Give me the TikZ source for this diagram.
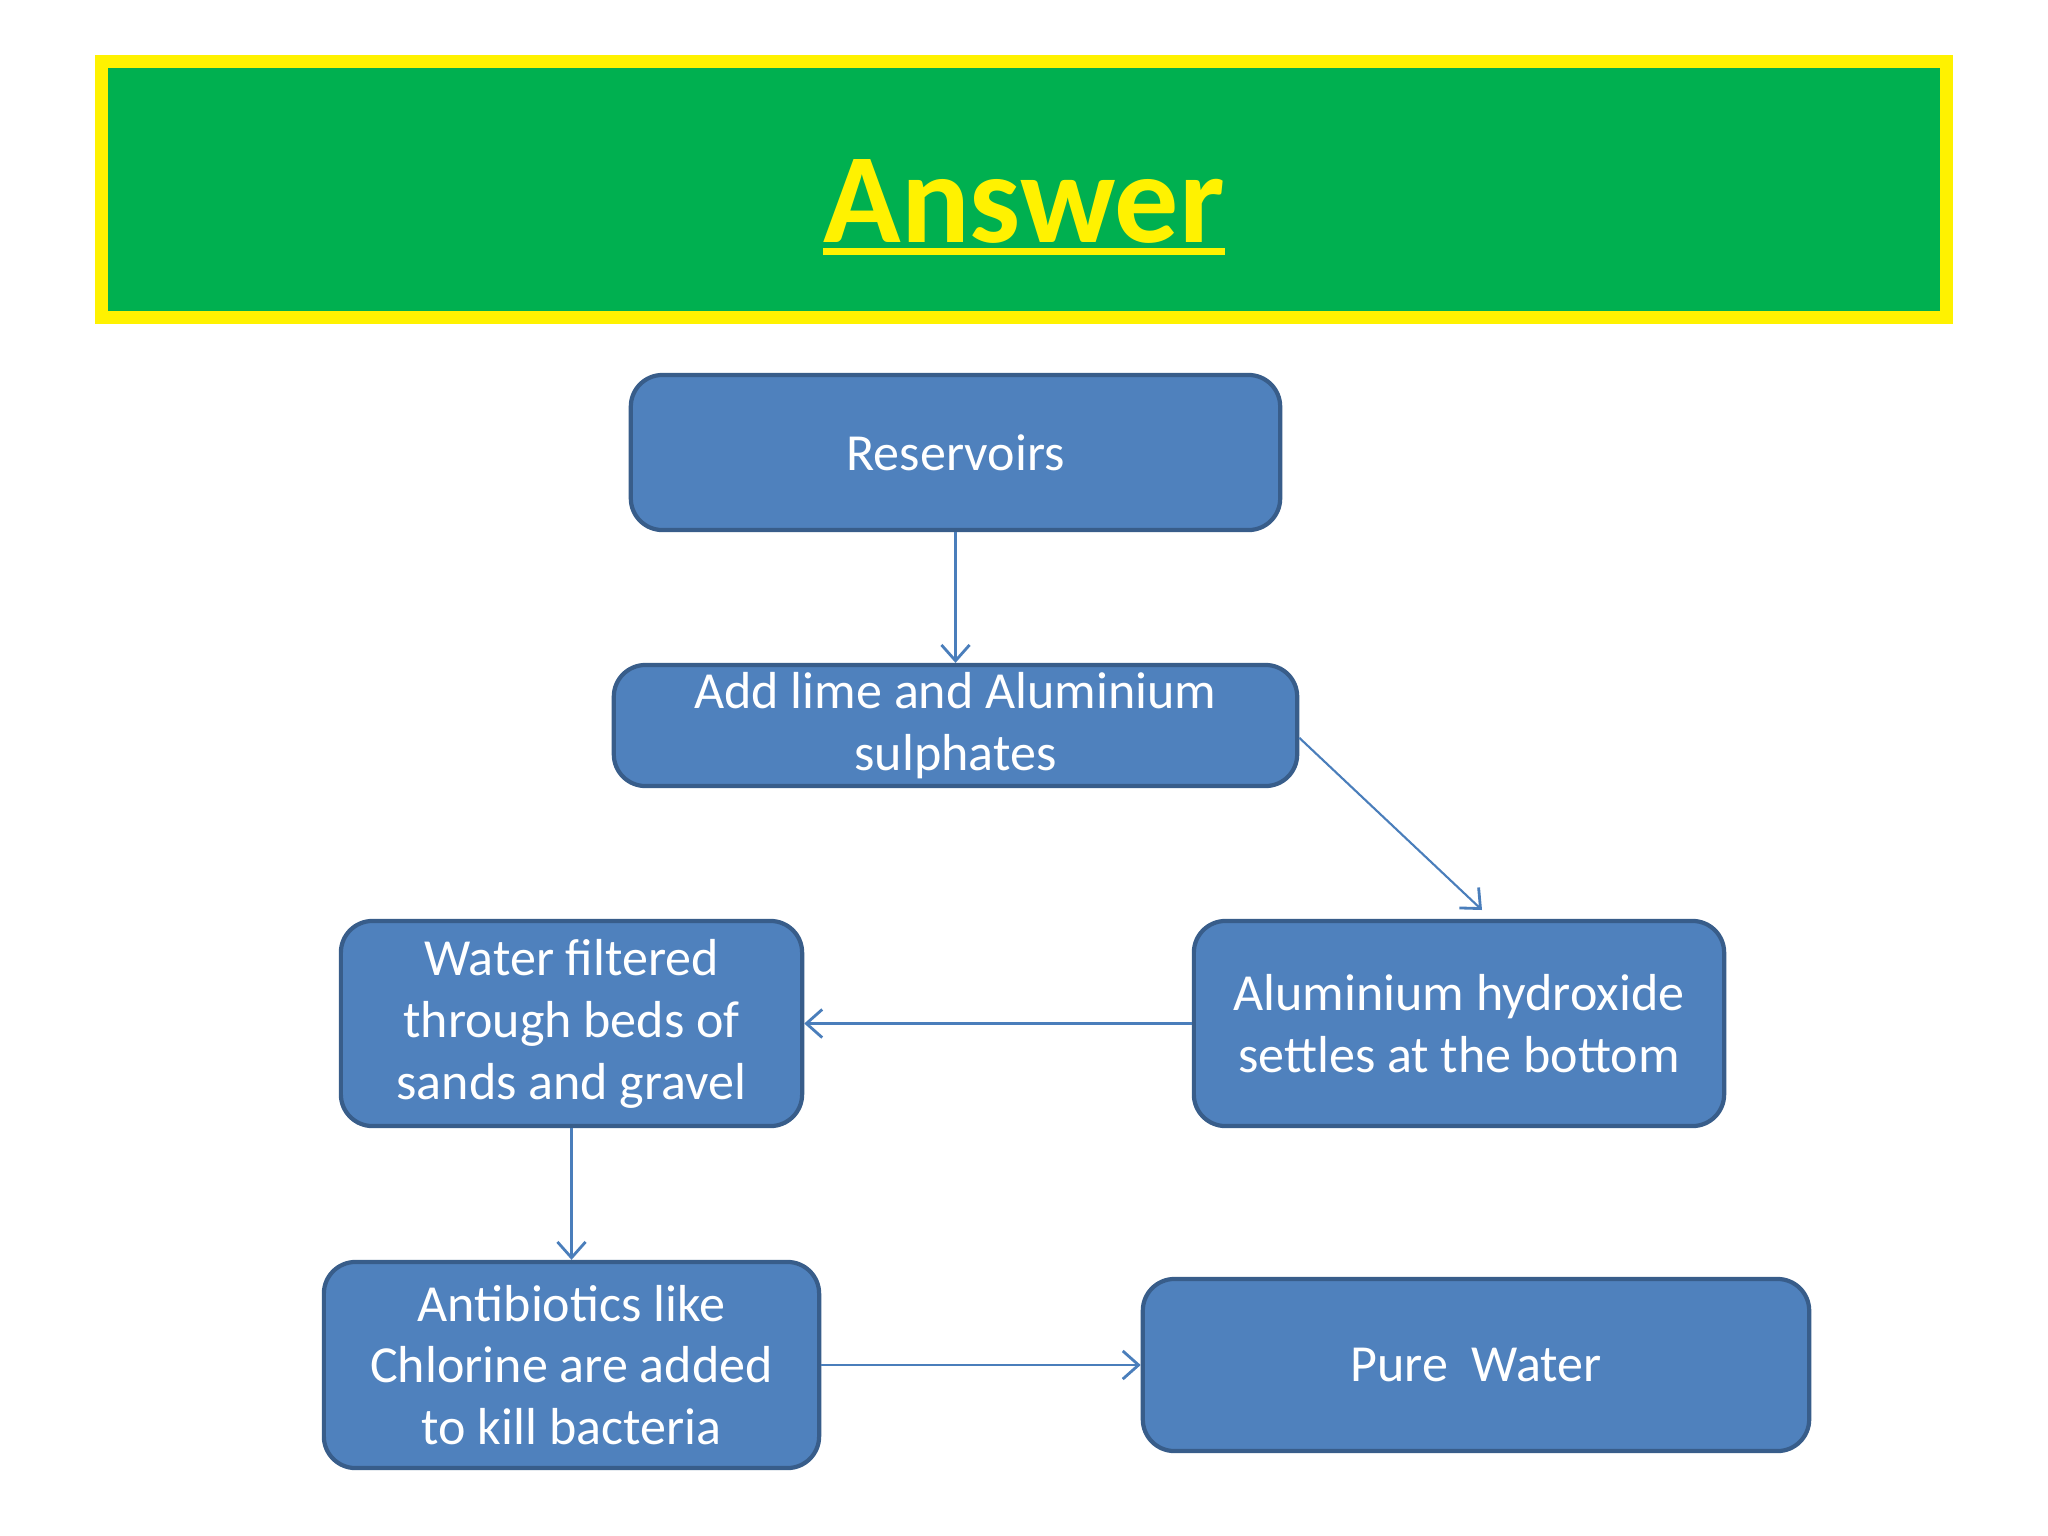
\documentclass[tikz,border=0pt]{standalone}
\usepackage{fontspec}
\setmainfont{Carlito}
\usetikzlibrary{arrows.meta}

\definecolor{stagefill}{HTML}{4F81BD}
\definecolor{stageedge}{HTML}{385D8A}
\definecolor{bannergreen}{HTML}{00B050}
\definecolor{linkblue}{HTML}{4A7EBB}

% thick underline for the heading
\newcommand{\headunder}[1]{\setbox0=\hbox{#1}\rlap{\rule[-3.7pt]{\wd0}{2pt}}\box0}

\begin{document}
\begin{tikzpicture}[x=0.01cm, y=-0.01cm,
    stage/.style={draw=stageedge, line width=1.2pt, fill=stagefill,
                  rounded corners=9pt, text=white, align=center, inner sep=0pt,
                  font=\fontsize{14.8}{17.6}\selectfont},
    link/.style={draw=linkblue, line width=0.6pt,
                 -{Straight Barb[length=4.5pt,width=8pt,line width=0.8pt]}},
    heading/.style={text=yellow, font=\bfseries\fontsize{36.4}{40}\selectfont, inner sep=0pt},
]
\useasboundingbox (0,0) rectangle (2048,1536);

\fill[bannergreen] (101.5,61.5) rectangle (1946.5,317.5);
\draw[yellow, line width=3.7pt] (101.5,61.5) rectangle (1946.5,317.5);
\node[heading, anchor=base] (title) at (1024,242) {\headunder{Answer}};

\node[stage, minimum width=6.49cm, minimum height=1.55cm] (res) at (955.5,452.5) {Reservoirs};
\node[stage, minimum width=6.83cm, minimum height=1.21cm] (add) at (955.5,725.5) {Add lime and Aluminium\\sulphates};
\node[stage, minimum width=5.30cm, minimum height=2.05cm] (settle) at (1459,1023.5) {Aluminium hydroxide\\settles at the bottom};
\node[stage, minimum width=4.61cm, minimum height=2.05cm] (filter) at (571.5,1023.5) {Water filtered\\through beds of\\sands and gravel};
\node[stage, minimum width=4.95cm, minimum height=2.06cm] (chlor) at (571.5,1365) {Antibiotics like\\Chlorine are added\\to kill bacteria};
\node[stage, minimum width=6.66cm, minimum height=1.72cm] (pure) at (1476,1365) {Pure\ \ Water};

\coordinate (settletop) at (1482,910);

\draw[link] (res) -- (add);
\draw[link] ([yshift=-3.5pt]add.east) -- (settletop);
\draw[link] (settle) -- (filter);
\draw[link] (filter) -- (chlor);
\draw[link] (chlor) -- (pure);
\end{tikzpicture}
\end{document}
